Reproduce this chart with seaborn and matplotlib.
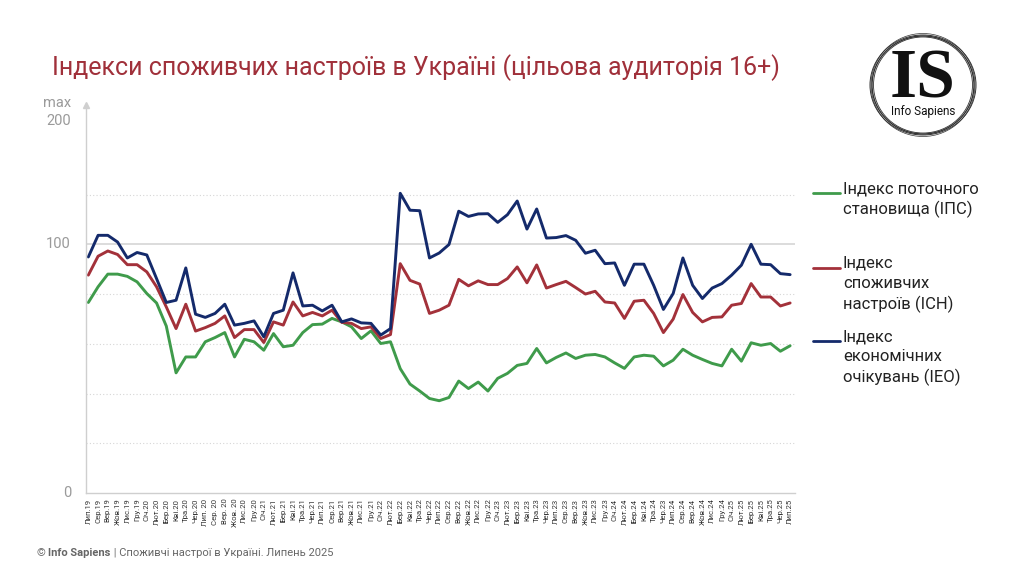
import pandas as pd
import matplotlib.pyplot as plt
import seaborn as sns
from matplotlib.lines import Line2D
from matplotlib.patches import Ellipse

months = ['Лип.19', 'Сер.19', 'Вер.19', 'Жов.19', 'Лис.19', 'Гру.19',
          'Січ.20', 'Лют.20', 'Бер.20', 'Кві.20', 'Тра.20', 'Чер.20',
          'Лип. 20', 'Сер. 20', 'Вер. 20', 'Жов. 20', 'Лис.20', 'Гру.20',
          'Січ.21', 'Лют.21', 'Бер.21', 'Кві.21', 'Тра.21', 'Чер.21',
          'Лип.21', 'Сер.21', 'Вер.21', 'Жов.21', 'Лис.21', 'Гру.21',
          'Січ.22', 'Лют.22', 'Бер.22', 'Кві.22', 'Тра.22', 'Чер.22',
          'Лип.22', 'Сер.22', 'Вер.22', 'Жов.22', 'Лис.22', 'Гру.22',
          'Січ.23', 'Лют.23', 'Бер.23', 'Кві.23', 'Тра.23', 'Чер.23',
          'Лип.23', 'Сер.23', 'Вер.23', 'Жов.23', 'Лис.23', 'Гру.23',
          'Січ.24', 'Лют.24', 'Бер.24', 'Кві.24', 'Тра.24', 'Чер.23',
          'Лип.24', 'Сер.24', 'Вер.24', 'Жов.24', 'Лис.24', 'Гру.24',
          'Січ.25', 'Лют.25', 'Бер.25', 'Кві.25', 'Тра.25', 'Чер.25',
          'Лип.25']

# Індекс поточного становища (ІПС)
ips = [76.6, 82.9, 88.0, 88.0, 87.1, 84.9, 80.2, 76.4, 67.1, 48.3,
       54.7, 54.7, 60.8, 62.5, 64.5, 54.7, 61.8, 60.8, 57.4, 64.1,
       58.8, 59.4, 64.5, 67.7, 67.9, 70.2, 68.8, 66.8, 62.1, 65.2,
       60.1, 60.8, 50.0, 43.8, 41.0, 38.0, 37.1, 38.4, 45.0, 42.0,
       44.6, 41.0, 46.1, 48.1, 51.3, 52.1, 58.1, 52.3, 54.5, 56.3,
       54.1, 55.4, 55.7, 54.7, 52.3, 50.1, 54.7, 55.4, 55.0, 51.1,
       53.4, 57.8, 55.4, 53.7, 52.1, 51.1, 57.8, 53.0, 60.4, 59.4,
       60.1, 57.0, 59.2]

# Індекс споживчих настроїв (ІСН)
isn = [87.6, 95.2, 97.3, 95.9, 91.8, 91.8, 88.9, 82.9, 74.8, 66.1,
       75.9, 65.1, 66.5, 68.2, 71.2, 62.5, 65.7, 65.7, 60.5, 68.8,
       67.5, 76.8, 71.2, 72.6, 71.2, 73.5, 68.6, 68.2, 66.1, 66.8,
       62.1, 63.7, 92.2, 85.5, 84.0, 72.2, 73.5, 75.5, 85.9, 83.3,
       85.3, 83.8, 83.8, 86.2, 90.9, 84.5, 91.7, 82.4, 83.8, 85.1,
       82.6, 80.0, 81.1, 76.8, 76.4, 70.2, 77.1, 77.5, 72.2, 64.5,
       69.9, 79.8, 72.6, 68.8, 70.6, 70.8, 75.5, 76.2, 84.2, 78.8,
       78.8, 75.2, 76.4]

# Індекс економічних очікувань (ІЕО)
ieo = [94.9, 103.6, 103.6, 100.9, 94.5, 96.7, 95.7, 86.2, 76.6, 77.5,
       90.5, 71.9, 70.6, 72.2, 75.9, 67.5, 68.2, 69.2, 62.8, 72.2,
       73.5, 88.5, 75.2, 75.5, 73.2, 75.5, 68.8, 70.0, 68.4, 68.2,
       63.5, 66.1, 120.5, 113.7, 113.5, 94.5, 96.5, 99.9, 113.3, 111.2,
       112.2, 112.3, 108.8, 111.9, 117.4, 106.1, 114.2, 102.5, 102.7, 103.5,
       101.6, 96.4, 97.6, 92.2, 92.5, 83.5, 92.0, 92.0, 83.5, 73.8,
       80.2, 94.5, 83.5, 78.2, 82.4, 84.2, 87.6, 91.6, 100.0, 92.0,
       91.8, 88.2, 87.8]

series_names = ['Індекс поточного\nстановища (ІПС)',
                'Індекс\nспоживчих\nнастроїв (ІСН)',
                'Індекс\nекономічних\nочікувань (ІЕО)']
colors = ['#3f9b4b', '#a3313a', '#142a6b']

n = len(months)
df = pd.DataFrame({
    'idx': list(range(n)) * 3,
    'value': ips + isn + ieo,
    'series': [series_names[0]] * n + [series_names[1]] * n + [series_names[2]] * n,
})

sns.set_style('white')
plt.rcParams['font.family'] = ['Roboto', 'DejaVu Sans']

fig = plt.figure(figsize=(10.24, 5.74), dpi=100)
W, H = 1024, 574
ax = fig.add_axes([85.7 / W, 1 - 493 / H, (795 - 85.7) / W, (493 - 105) / H])

for v in [20, 40, 60, 80, 120]:
    ax.axhline(v, color='#d6d6d6', lw=0.8, ls=(0, (1, 2)), zorder=0)
ax.axhline(100, color='#d9d9d9', lw=1.3, zorder=0)

sns.lineplot(data=df, x='idx', y='value', hue='series', palette=colors,
             linewidth=2.1, ax=ax, legend=False)

ax.set_xlim(-0.27, 72.5)
ax.set_ylim(0, 156)
ax.set_xticks(range(n))
ax.set_xticklabels(months, rotation=90, fontsize=5.6, color='#333333')
ax.set_yticks([])
ax.set_xlabel('')
ax.set_ylabel('')
ax.tick_params(axis='x', length=0, pad=4)
for s in ['top', 'right']:
    ax.spines[s].set_visible(False)
ax.spines['left'].set_color('#cfcfcf')
ax.spines['bottom'].set_color('#cfcfcf')
ax.spines['left'].set_linewidth(1)
ax.spines['bottom'].set_linewidth(1)
ax.plot([0], [1], marker='^', color='#cfcfcf', markersize=5,
        transform=ax.transAxes, clip_on=False)

# y labels
grey = '#9a9a9a'
fig.text(71 / W, 1 - 244 / H, '100', ha='right', va='center', fontsize=10.5, color=grey)
fig.text(71 / W, 1 - 493 / H, '0', ha='right', va='center', fontsize=10.5, color=grey)
fig.text(71 / W, 1 - 103 / H, 'max', ha='right', va='center', fontsize=10.5, color=grey)
fig.text(71 / W, 1 - 121 / H, '200', ha='right', va='center', fontsize=10.5, color=grey)

# title
fig.text(52 / W, 1 - 68 / H, 'Індекси споживчих настроїв в Україні (цільова аудиторія 16+)',
         ha='left', va='center', fontsize=18, color='#a0303a')

# legend
leg_y = [193, 268, 341]
for name, c, y in zip(series_names, colors, leg_y):
    fig.add_artist(Line2D([813 / W, 840 / W], [1 - y / H, 1 - y / H], color=c, lw=2))
    fig.text(843 / W, 1 - (y - 12) / H, name, ha='left', va='top', fontsize=12,
             color='#222222', linespacing=1.38)

# logo
lx, ly = 923 / W, 1 - 85 / H
for rw, rh, lw in [(51, 49, 1.0), (53, 50, 0.7), (49.5, 48, 0.6), (52, 51.5, 0.5)]:
    fig.add_artist(Ellipse((lx, ly), 2 * rw / W, 2 * rh / H, transform=fig.transFigure,
                           fill=False, ec='#333333', lw=lw))
fig.text(lx, 1 - 80 / H, 'IS', ha='center', va='center', fontsize=50,
         family=['Liberation Serif', 'DejaVu Serif'], weight='bold', color='#111111')
fig.text(lx, 1 - 111 / H, 'Info Sapiens', ha='center', va='center', fontsize=8.5,
         color='#111111')

# footer
fig.canvas.draw()
r = fig.canvas.get_renderer()
x0 = 37 / W
fy = 1 - 553 / H
t1 = fig.text(x0, fy, '© ', ha='left', va='center', fontsize=8, color='#666666')
fig.canvas.draw()
x1 = x0 + t1.get_window_extent(r).width / W
t2 = fig.text(x1, fy, 'Info Sapiens', ha='left', va='center', fontsize=8,
              color='#666666', weight='bold')
fig.canvas.draw()
x2 = x1 + t2.get_window_extent(r).width / W
fig.text(x2, fy, ' | Споживчі настрої в Україні. Липень 2025', ha='left', va='center',
         fontsize=8, color='#666666')

fig.savefig('out.png', dpi=100)
